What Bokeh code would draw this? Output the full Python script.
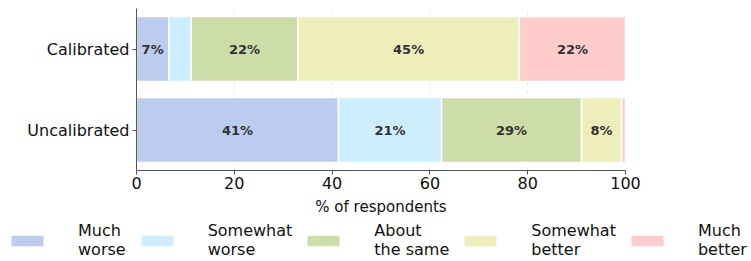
from bokeh.plotting import figure
from bokeh.models import ColumnDataSource, Legend, LegendItem, FactorRange, Range1d
from bokeh.core.properties import value
from bokeh.embed import file_html
from bokeh.resources import INLINE
import numpy as np

groups = ["Uncalibrated", "Calibrated"]
responses = ["Much\nworse", "Somewhat\nworse", "About\nthe same", "Somewhat\nbetter", "Much\nbetter"]
colors = ["#BBCCEE", "#CCEEFF", "#CCDDAA", "#EEEEBB", "#FFCCCC"]
uncalibrated = [41.3, 21.1, 28.6, 8.2, 0.8]
calibrated = [6.6, 4.6, 21.8, 45.3, 21.7]
x_ticks = [0, 20, 40, 60, 80, 100]

FONT = "DejaVu Sans"

p = figure(width=751, height=219, y_range=FactorRange(*groups), x_range=(0, 100),
           output_backend="svg", toolbar_location=None,
           min_border_left=136, min_border_right=126, min_border_top=8, min_border_bottom=49)
p.outline_line_color = None

vals = np.array([uncalibrated, calibrated])
lefts = np.hstack([np.zeros((2, 1)), np.cumsum(vals, axis=1)[:, :-1]])
rights = lefts + vals

sources = []
for i, col in enumerate(colors):
    src = ColumnDataSource(dict(y=groups, left=lefts[:, i], right=rights[:, i]))
    sources.append(src)
    p.hbar(y="y", left="left", right="right", height=0.8, source=src,
           fill_color=col, line_color="white", line_width=1.5)

lab_x, lab_y, lab_t = [], [], []
for g, row_v, row_l in zip(groups, vals, lefts):
    for v, l in zip(row_v, row_l):
        if v >= 5:
            lab_x.append(l + v / 2)
            lab_y.append(g)
            lab_t.append(f"{round(v)}%")
p.text(x=lab_x, y=lab_y, text=lab_t, text_align="center", text_baseline="middle",
       text_font=value(FONT), text_font_size="13px", text_font_style="bold", text_color="#333333")

p.xaxis.ticker = x_ticks
p.xaxis.axis_label = "% of respondents"
for ax in (p.xaxis, p.yaxis):
    ax.axis_line_color = "#555555"
    ax.major_tick_line_color = "#555555"
    ax.major_tick_out = 4
    ax.major_tick_in = 0
    ax.minor_tick_line_color = None
    ax.major_label_text_font = FONT
    ax.major_label_text_font_size = "16px"
    ax.major_label_text_color = "#111111"
p.xaxis.axis_label_text_font = FONT
p.xaxis.axis_label_text_font_size = "15px"
p.xaxis.axis_label_text_font_style = "normal"
p.xaxis.axis_label_text_color = "#111111"
p.xaxis.axis_label_standoff = 6
p.xaxis.major_label_standoff = 2
p.yaxis.major_label_standoff = 3

p.ygrid.grid_line_color = None
p.xgrid.grid_line_color = "#dddddd"
p.xgrid.grid_line_alpha = 0.6
p.xgrid.grid_line_dash = "4 3"

# legend strip (a separate root, so its frame spans the full width)
lf = figure(width=751, height=42, output_backend="svg", toolbar_location=None,
            x_axis_type=None, y_axis_type=None,
            x_range=Range1d(-300, -200), y_range=FactorRange(*groups),
            min_border=0, min_border_left=0, min_border_right=0,
            min_border_top=0, min_border_bottom=0)
lf.outline_line_color = None
lf.grid.grid_line_color = None
items = []
for resp, col, src in zip(responses, colors, sources):
    r = lf.hbar(y="y", left="left", right="right", height=0.8, source=src,
                fill_color=col, line_color=None)
    items.append(LegendItem(label=resp, renderers=[r]))

legend = Legend(items=items, orientation="horizontal", location=(7, 2),
                label_text_font=FONT, label_text_font_size="16px", label_text_color="#111111",
                label_standoff=31, glyph_width=40, glyph_height=13, spacing=11,
                padding=0, margin=0, border_line_color=None, background_fill_alpha=0)
lf.add_layout(legend, "center")

open("out.html", "w").write(file_html([p, lf], INLINE))
